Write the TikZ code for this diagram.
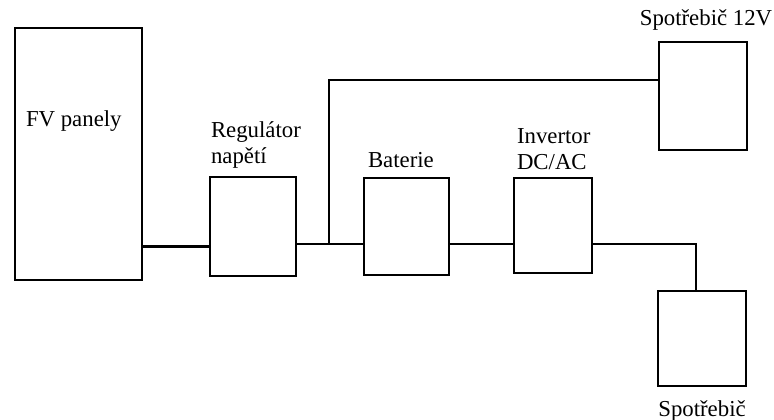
\documentclass[tikz,border=0pt]{standalone}
\usepackage{fontspec}
\setmainfont{Liberation Serif}
\usepackage{tikz}
\usetikzlibrary{positioning,calc}
\tikzset{
	unit/.style={draw, line width=1.25pt, inner sep=0pt, outer sep=0pt},
	caption/.style={inner sep=0pt, outer sep=0pt, align=left, font=\fontsize{11.4}{13}\selectfont},
	wire/.style={line width=1.25pt, line join=miter},
}

\begin{document}
\begin{tikzpicture}
		\useasboundingbox (0pt,0pt) rectangle (387pt,209.5pt);
		% blocks
		\node[unit, minimum width=63.5pt, minimum height=126pt] (fv) at (39.25pt,132.5pt) {};
		\node[unit, minimum width=43pt, minimum height=49.5pt] (reg) at (126.5pt,96.25pt) {};
		\node[unit, minimum width=42.5pt, minimum height=48.5pt] (bat) at (203.25pt,96.25pt) {};
		\node[unit, minimum width=39pt, minimum height=47.5pt] (inv) at (276.5pt,96.75pt) {};
		\node[unit, minimum width=44pt, minimum height=54pt] (load12) at (351.5pt,161.5pt) {};
		\node[unit, minimum width=44pt, minimum height=47.5pt] (loadac) at (351pt,40.25pt) {};
		% texts
		\node[caption, anchor=base west] (fvlbl) at ([shift={(5.5pt,-49pt)}]fv.north west) {FV panely};
		\node[caption, above right=4.2pt and 0.5pt of reg.north west] (reglbl) {Regulátor\\napětí};
		\node[caption, above right=5pt and 2pt of bat.north west] (batlbl) {Baterie};
		\node[caption, above right=4.3pt and 1.5pt of inv.north west] (invlbl) {Invertor\\DC/AC};
		\node[caption, above=6pt of load12.north, xshift=1.5pt] (load12lbl) {Spotřebič 12V};
		\node[caption, anchor=base] (loadaclbl) at ([yshift=-15pt]loadac.south) {Spotřebič};
		% wiring
		\coordinate (jn) at (164.5pt,87.5pt);
		\draw[wire] ([yshift=-10pt]reg.west) -- ([yshift=-10pt]reg.west -| fv.east);
		\draw[wire] ([yshift=-8.75pt]reg.east) -- (jn) -- ([yshift=-8.75pt]bat.west);
		\draw[wire] (jn) |- ([yshift=8pt]load12.west);
		\draw[wire] ([yshift=-8.75pt]bat.east) -- ([yshift=-8.75pt]bat.east -| inv.west);
		\draw[wire] ([yshift=-9.25pt]inv.east) -| ([xshift=-3pt]loadac.north);
	\end{tikzpicture}
\end{document}
